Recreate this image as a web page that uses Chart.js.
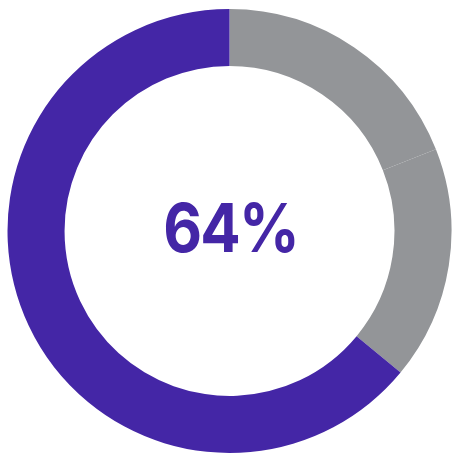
<!DOCTYPE html>
<html>
<head>
<meta charset="utf-8">
<script src="https://cdn.jsdelivr.net/npm/chart.js@4"></script>
<style>
  html, body { margin: 0; padding: 0; background: #ffffff; }
  #wrap { position: relative; width: 458px; height: 458px; }
  #label {
    position: absolute; left: 0; top: 0; width: 462px; height: 454px;
    display: flex; align-items: center; justify-content: center;
    pointer-events: none;
  }
  #label span {
    display: inline-block;
    font-family: Inter, Roboto, "Liberation Sans", sans-serif; font-weight: 700;
    font-size: 68px; color: #4426A6; letter-spacing: -2px;
    transform: scaleX(0.88);
  }
</style>
</head>
<body>
<div id="wrap">
  <canvas id="c" width="458" height="458"></canvas>
  <div id="label"><span id="txt"></span></div>
</div>
<script>
const categories = ["Remaining A", "Remaining B", "Share"];
const values = [19, 17, 64];
const colors = ["#939598", "#939598", "#4426A6"];
const centerLabel = "64%";

document.getElementById("txt").textContent = centerLabel;

new Chart(document.getElementById("c"), {
  type: "doughnut",
  data: {
    labels: categories,
    datasets: [{
      data: values,
      backgroundColor: colors,
      borderWidth: 0,
      hoverOffset: 0
    }]
  },
  options: {
    responsive: false,
    animation: false,
    cutout: "74.3%",
    layout: { padding: { left: 7, right: 6, top: 9, bottom: 5 } },
    plugins: { legend: { display: false }, tooltip: { enabled: false } }
  }
});
</script>
</body>
</html>
